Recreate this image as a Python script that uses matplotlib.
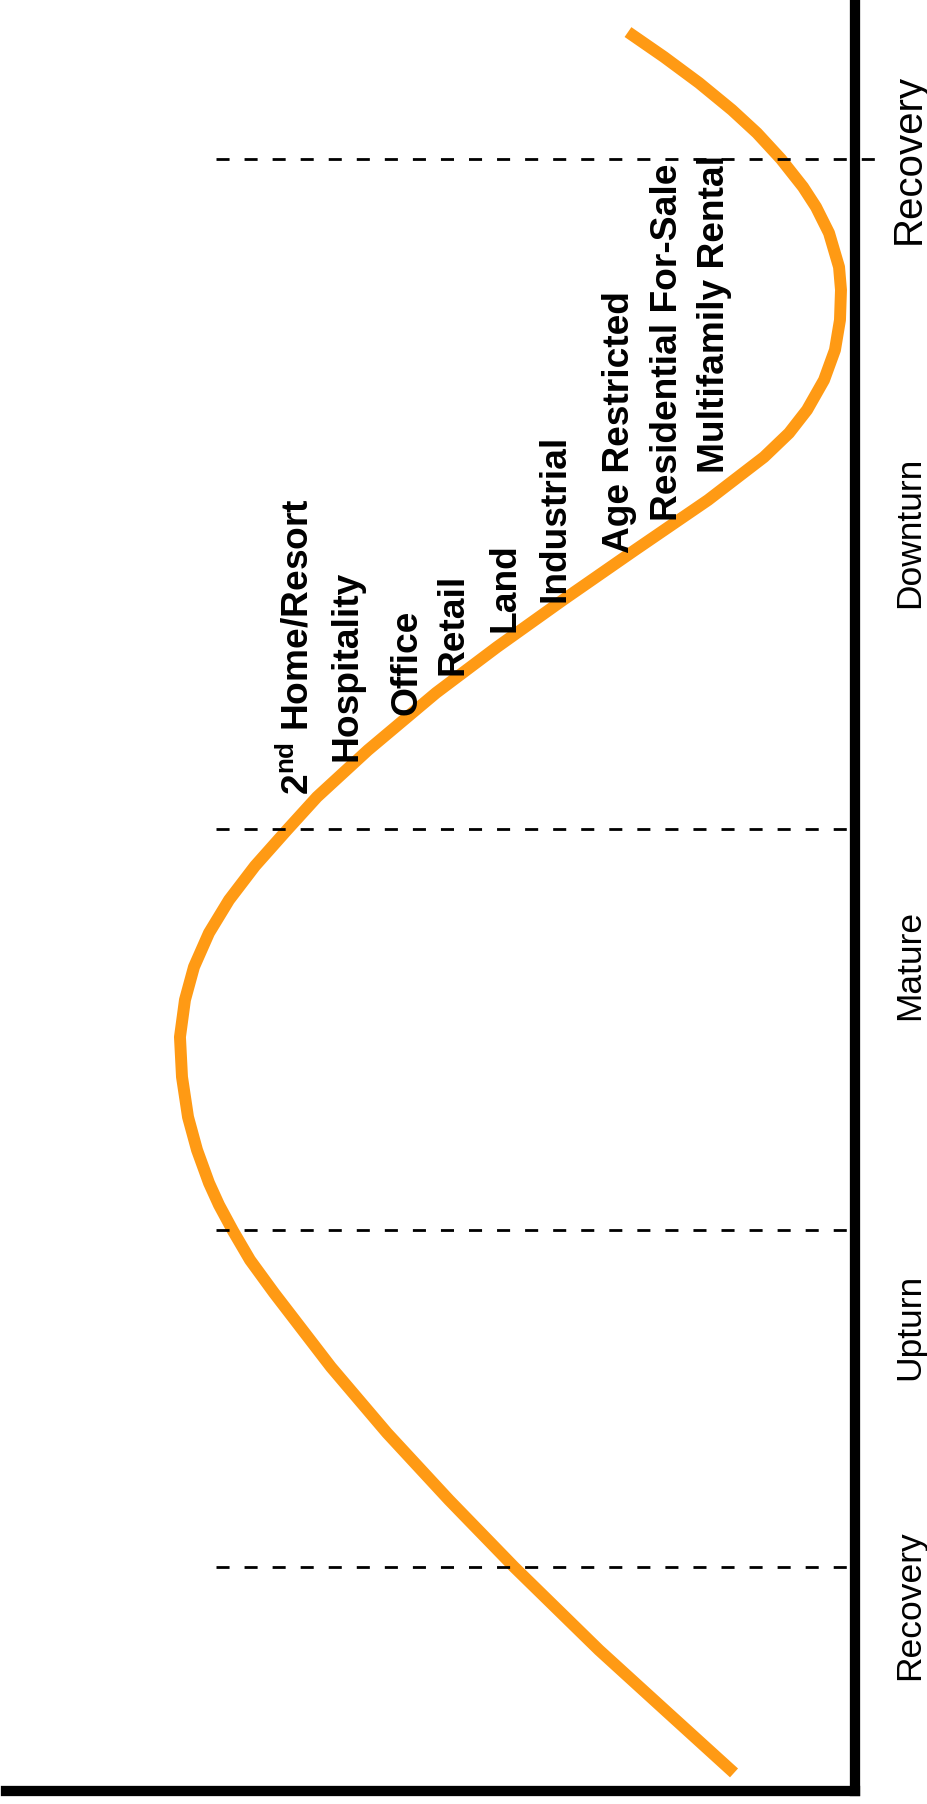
"""Real estate cycle chart, drawn sideways (time runs bottom -> top, value grows leftwards)."""
import matplotlib
matplotlib.use("Agg")
import matplotlib.pyplot as plt

plt.rcParams["font.family"] = ["Liberation Sans", "DejaVu Sans"]
plt.rcParams["mathtext.fontset"] = "custom"
plt.rcParams["mathtext.bf"] = "Liberation Sans:bold"
plt.rcParams["mathtext.rm"] = "Liberation Sans"

ORANGE = "#FF9A14"

# cycle curve: time (0 = bottom axis) and market value (0 = right axis)
cycle_time = [1.01, 4.41, 7.87, 12.51, 16.25, 19.99, 23.67, 27.81, 29.65, 31.27, 32.72,
              33.95, 35.79, 37.63, 39.87, 42.10, 44.17, 46.01, 47.91, 49.75, 51.65,
              53.66, 55.50, 58.12, 61.31, 63.87, 66.50, 69.29, 72.08, 74.48, 75.82,
              77.11, 78.78, 80.46, 82.13, 83.81, 85.09, 86.99, 88.44, 89.56, 91.12,
              92.57, 93.86, 95.37, 96.82, 98.21]
cycle_value = [14.25, 22.14, 30.15, 40.16, 47.82, 55.12, 61.72, 68.43, 71.26, 73.26, 74.91,
               76.09, 77.50, 78.56, 79.27, 79.51, 78.92, 77.86, 76.09, 73.73, 70.67,
               66.90, 63.37, 57.36, 49.35, 42.17, 34.39, 25.91, 17.31, 10.72, 7.77,
               5.65, 3.65, 2.36, 1.77, 1.65, 1.88, 3.06, 4.59, 6.12, 8.72,
               11.54, 14.49, 18.37, 22.50, 26.74]

# phase boundaries (dashed) and phase names
boundaries = [12.5, 31.3, 53.7, 91.1]
boundary_reach = [75.3, 75.3, 75.3, 75.3]
boundary_overshoot = [0, 0, 0, -3.3]
phases = ["Recovery", "Upturn", "Mature", "Downturn", "Recovery"]
phase_centers = [10.4, 25.9, 46.1, 70.3, 91.1]
phase_sizes = [25.5, 25.5, 25.5, 25.5, 29]

# property types along the downturn leg
sectors = ["2$^{\\mathbf{nd}}$ Home/Resort", "Hospitality", "Office", "Retail", "Land",
           "Industrial", "Age Restricted", "Residential For-Sale", "Multifamily Rental"]
sector_value = [64.4, 58.7, 51.6, 46.2, 40.1, 34.2, 26.6, 21.0, 15.4]
sector_time = [55.6, 57.5, 60.1, 62.3, 64.7, 66.4, 69.1, 70.9, 73.6]


def main():
    fig = plt.figure(figsize=(9.28, 18.04), dpi=100)
    ax = fig.add_axes([6 / 928, 13 / 1804, 849 / 928, 1791 / 1804])
    ax.set_xlim(100, 0)
    ax.set_ylim(0, 100)
    ax.set_xticks([]); ax.set_yticks([])
    for side in ("top", "left"):
        ax.spines[side].set_visible(False)
    for side in ("right", "bottom"):
        ax.spines[side].set_linewidth(7.4)
        ax.spines[side].set_color("black")

    ax.plot(cycle_value, cycle_time, color=ORANGE, lw=8.6, solid_capstyle="butt",
            solid_joinstyle="round", zorder=2)

    for t, reach, over in zip(boundaries, boundary_reach, boundary_overshoot):
        ax.plot([reach, over], [t, t], color="black", lw=2.0, ls=(0, (4.7, 5.4)),
                zorder=3, clip_on=False)

    for name, t, fs in zip(phases, phase_centers, phase_sizes):
        ax.text(-7.6, t, name, rotation=90, rotation_mode="anchor", ha="center",
                va="baseline", fontsize=fs, clip_on=False)

    for name, v, t in zip(sectors, sector_value, sector_time):
        ax.text(v, t, name, rotation=90, rotation_mode="anchor", ha="left",
                va="baseline", fontsize=26.7, fontweight="bold", zorder=4)

    fig.savefig("out.png", dpi=100, facecolor="white")


if __name__ == "__main__":
    main()
